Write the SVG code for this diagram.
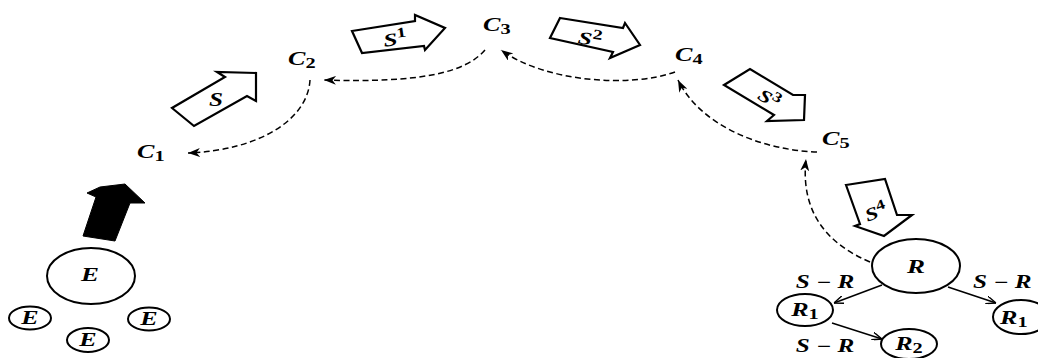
<svg xmlns="http://www.w3.org/2000/svg" width="1038" height="358" viewBox="0 0 1038 358">
<style>
.t{font-family:"Liberation Serif","Times New Roman",serif;font-weight:bold;font-style:italic;font-size:18px;fill:#000}
.sub{font-size:14px;font-style:normal}
.dash{fill:none;stroke:#000;stroke-width:1.5;stroke-dasharray:6,3.5}
.node{fill:#fff;stroke:#000;stroke-width:2}
.blk{fill:#fff;stroke:#000;stroke-width:2.2;stroke-linejoin:miter}
.edge{fill:none;stroke:#000;stroke-width:1.5}
</style>
<defs>
<marker id="fa" viewBox="0 0 12 9" refX="12" refY="4.5" markerWidth="12" markerHeight="9" markerUnits="userSpaceOnUse" orient="auto">
<path d="M0,0 L12,4.5 L0,9 L3.5,4.5 z" fill="#000"/>
</marker>
<marker id="oa" viewBox="0 0 10 8" refX="10" refY="4" markerWidth="10" markerHeight="8" markerUnits="userSpaceOnUse" orient="auto">
<path d="M0,0 L10,4 L0,8" fill="none" stroke="#000" stroke-width="1.4"/>
</marker>
</defs>
<rect width="1038" height="358" fill="#fff"/>
<g id="connectors">
<path class="dash" d="M310,80 C308,118 262,150 188,153" marker-end="url(#fa)"/>
<path class="dash" d="M485,50 C465,73 420,83 324,80" marker-end="url(#fa)"/>
<path class="dash" d="M675,72 C630,88 545,82 501,50" marker-end="url(#fa)"/>
<path class="dash" d="M817,152 C760,150 700,125 678,80" marker-end="url(#fa)"/>
<path class="dash" d="M870,262 C830,245 800,215 806,159" marker-end="url(#fa)"/>
<line class="edge" x1="882" y1="285" x2="834" y2="303" marker-end="url(#oa)"/>
<line class="edge" x1="832" y1="323" x2="882" y2="339" marker-end="url(#oa)"/>
<line class="edge" x1="948" y1="287" x2="996" y2="303" marker-end="url(#oa)"/>
</g>
<g id="arrow-E">
<polygon points="83,236 96,197 87,193 100,187 125,184 145,203 130,203 115,241" fill="#000" stroke="#000" stroke-width="1"/>
</g>
<g id="E-main"><ellipse class="node" cx="91" cy="276" rx="44" ry="28"/><text class="t" transform="translate(90,281) scale(1.5,1)" text-anchor="middle">E</text></g>
<g id="E-1"><ellipse class="node" cx="30" cy="318" rx="21" ry="11.5"/><text class="t" transform="translate(30,324) scale(1.45,1)" text-anchor="middle" font-size="16">E</text></g>
<g id="E-2"><ellipse class="node" cx="88" cy="340" rx="21" ry="12"/><text class="t" transform="translate(88,346) scale(1.45,1)" text-anchor="middle" font-size="16">E</text></g>
<g id="E-3"><ellipse class="node" cx="149" cy="319" rx="21" ry="11.5"/><text class="t" transform="translate(149,325) scale(1.45,1)" text-anchor="middle" font-size="16">E</text></g>
<g id="C1"><text class="t" transform="translate(137,158) scale(1.45,1)">C<tspan class="sub" dy="3">1</tspan></text></g>
<g id="C2"><text class="t" transform="translate(288,65) scale(1.45,1)">C<tspan class="sub" dy="3">2</tspan></text></g>
<g id="C3"><text class="t" transform="translate(483,31) scale(1.45,1)">C<tspan class="sub" dy="3">3</tspan></text></g>
<g id="C4"><text class="t" transform="translate(675,61) scale(1.45,1)">C<tspan class="sub" dy="3">4</tspan></text></g>
<g id="C5"><text class="t" transform="translate(822,145) scale(1.45,1)">C<tspan class="sub" dy="3">5</tspan></text></g>
<g id="S">
<polygon class="blk" points="172,108 194,126 247,96 256,101 256,73 217,72 225,77"/>
<text class="t" transform="translate(216,106) scale(1.4,1)" text-anchor="middle" font-size="19">S</text>
</g>
<g id="S1">
<polygon class="blk" points="352,31 415,21 415,15 445,28 425,50 424,46 362,53"/>
<text class="t" transform="translate(396,45) rotate(-8) scale(1.4,1)" text-anchor="middle">S<tspan class="sub" dy="-7" font-size="12">1</tspan></text>
</g>
<g id="S2">
<polygon class="blk" points="560,18 623,28 625,23 640,45 610,58 613,52 550,38"/>
<text class="t" transform="translate(589,45) rotate(9) scale(1.4,1)" text-anchor="middle">S<tspan class="sub" dy="-7" font-size="12">2</tspan></text>
</g>
<g id="S3">
<polygon class="blk" points="724,85 750,69 793,95 805,95 804,120 767,121 774,115"/>
<text class="t" transform="translate(766,104) rotate(31) scale(1.3,1)" text-anchor="middle">S<tspan class="sub" dy="-7" font-size="12">3</tspan></text>
</g>
<g id="S4">
<polygon class="blk" points="846,185 885,179 897,215 912,215 884,236 855,226 860,224"/>
<text class="t" transform="translate(878,218) rotate(-20) scale(1.3,1)" text-anchor="middle">S<tspan class="sub" dy="-7" font-size="12">4</tspan></text>
</g>
<g id="R"><ellipse class="node" cx="916" cy="266" rx="44" ry="27"/><text class="t" transform="translate(916,273) scale(1.5,1)" text-anchor="middle" font-size="19">R</text></g>
<g id="R1-left"><ellipse class="node" cx="805" cy="310" rx="28" ry="16"/><text class="t" transform="translate(805,316) scale(1.45,1)" text-anchor="middle">R<tspan class="sub" dy="3">1</tspan></text></g>
<g id="R2"><ellipse class="node" cx="909" cy="344" rx="28" ry="15"/><text class="t" transform="translate(909,350) scale(1.45,1)" text-anchor="middle">R<tspan class="sub" dy="3">2</tspan></text></g>
<g id="R1-right"><ellipse class="node" cx="1021" cy="317" rx="28" ry="17"/><text class="t" transform="translate(1000,324) scale(1.45,1)">R<tspan class="sub" dy="3">1</tspan></text></g>
<g id="labels">
<text class="t" transform="translate(825,288) scale(1.4,1)" text-anchor="middle">S − R</text>
<text class="t" transform="translate(973,288) scale(1.4,1)">S − R</text>
<text class="t" transform="translate(825,352) scale(1.4,1)" text-anchor="middle">S − R</text>
</g>
</svg>
